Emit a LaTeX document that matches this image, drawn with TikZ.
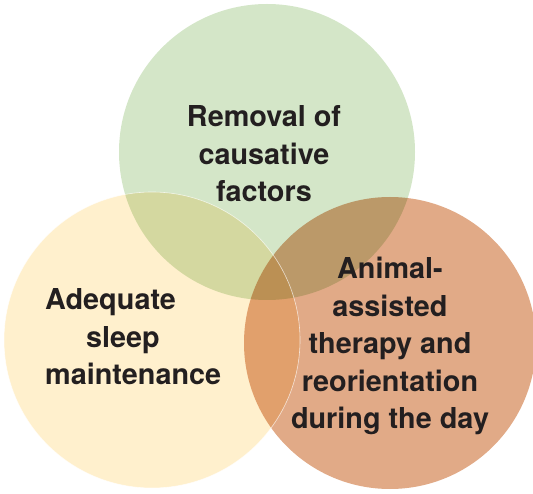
\documentclass[tikz,border=0pt]{standalone}
\usepackage{fontspec}
\setmainfont{TeX Gyre Heros}
\usepackage{tikz}
\usetikzlibrary{positioning}
\definecolor{setgreen}{RGB}{212,230,200}
\definecolor{setyellow}{RGB}{255,240,205}
\definecolor{setorange}{RGB}{225,170,135}
\definecolor{inkgray}{RGB}{35,31,32}

\begin{document}
\begin{tikzpicture}[x=1pt,y=-1pt,
  set/.style={circle,minimum size=296pt,inner sep=0pt},
  set text/.style={font=\fontsize{28.8}{37.5}\selectfont\bfseries,text=inkgray,inner sep=0pt}]
\useasboundingbox (0,0) rectangle (533,494);
\begin{scope}[blend group=multiply]
  \node[set,fill=setyellow] (sleep) at (152,340) {};
  \node[set,fill=setgreen] (removal) at (267,152) {};
  \node[set,fill=setorange,minimum size=292pt] (animal) at (390,343) {};
\end{scope}
\draw[white,opacity=.7,line width=.6pt] (sleep) circle (148);
\node[set text,align=center] (removal-t) at (264,154) {Removal of\\causative\\factors};
\node[set text,align=left,anchor=west] (sleep-t) at (45,337) {Adequate\\\hspace*{41pt}sleep\\maintenance};
\node[set text,align=center] (animal-t) at (390,346) {Animal-\\assisted\\therapy and\\reorientation\\during the day};
\end{tikzpicture}
\end{document}
